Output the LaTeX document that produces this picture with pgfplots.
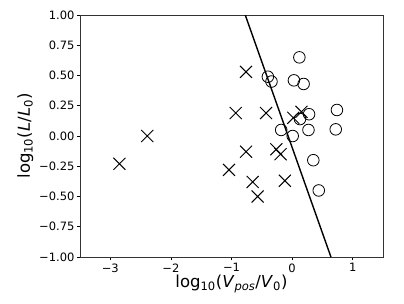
\documentclass[border=0pt]{standalone}
\usepackage{pgfplots}
\pgfplotsset{compat=1.18}
\usepackage{fontspec}
\setmainfont{DejaVu Sans}
\begin{document}
\begin{tikzpicture}
\useasboundingbox (-80pt,-46pt) rectangle (324pt,257pt);
\begin{axis}[
  at={(0,0)}, anchor=south west,
  scale only axis, width=303pt, height=242pt,
  xmin=-3.5, xmax=1.5, ymin=-1, ymax=1,
  xtick={-3,-2,-1,0,1},
  xticklabels={−3,−2,−1,0,1},
  ytick={-1,-0.75,-0.5,-0.25,0,0.25,0.5,0.75,1},
  yticklabels={−1.00,−0.75,−0.50,−0.25,0.00,0.25,0.50,0.75,1.00},
  tick label style={font=\fontsize{11.5}{13}\selectfont},
  yticklabel style={xshift=1pt},
  tick align=outside, tick pos=left,
  major tick length=3pt,
  every tick/.style={black, line width=0.7pt},
  axis line style={line width=0.8pt, black!80},
  xlabel={log\textsubscript{10}(\textit{V}\textsubscript{\textit{pos}}/\textit{V}\textsubscript{0})},
  ylabel={log\textsubscript{10}(\textit{L}/\textit{L}\textsubscript{0})},
  label style={font=\fontsize{16.5}{19}\selectfont},
  xlabel style={yshift=4pt},
  ylabel style={yshift=-1pt},
  clip=true,
]
\addplot[only marks, mark=x, mark size=8.5pt, line width=1pt, black] coordinates {
(-2.85,-0.23) (-2.39,0.00) (-0.76,0.53) (-0.93,0.19) (-0.43,0.19)
(-0.76,-0.13) (-1.04,-0.28) (-0.65,-0.38) (-0.57,-0.50) (-0.26,-0.11)
(-0.19,-0.15) (-0.12,-0.37) (0.02,0.15) (0.155,0.20)
};
\addplot[only marks, mark=o, mark size=5.8pt, line width=0.8pt, black] coordinates {
(-0.40,0.49) (-0.34,0.45) (0.12,0.65) (0.03,0.46) (0.19,0.43)
(0.28,0.18) (0.13,0.14) (-0.18,0.05) (0.01,0.00) (0.27,0.05)
(0.72,0.055) (0.74,0.215) (0.35,-0.20) (0.44,-0.45)
};
\addplot[black, line width=1.4pt] coordinates {(-0.773,1) (0.641,-1)};
\end{axis}
\end{tikzpicture}
\end{document}
